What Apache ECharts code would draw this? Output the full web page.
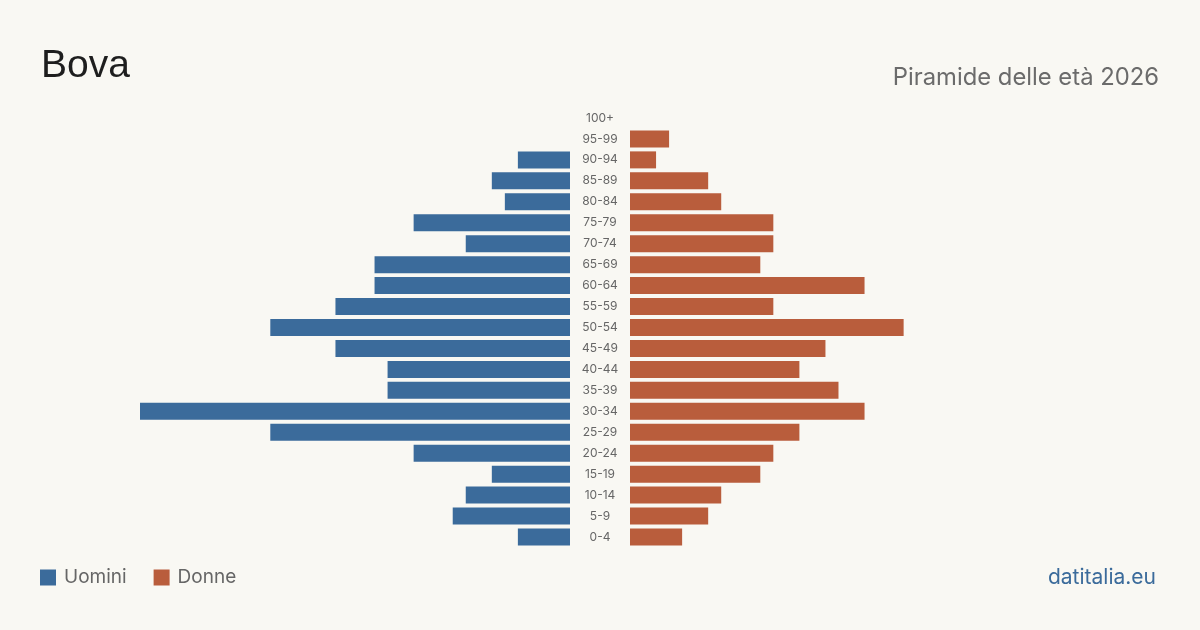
<!DOCTYPE html>
<html lang="it">
<head>
	<meta charset="UTF-8">
	<title>Bova</title>
	<style type="text/css">
	body,html{
		width: 100%;
		height: 100%;
		margin: 0;
		padding: 0;
		background-color: #f9f8f3;
	}
	#container{
		width: 1200px;
		height: 630px;
	}
	</style>
</head>
<body>
<div id="container"></div>
<script type="text/javascript" src="https://cdn.jsdelivr.net/npm/echarts@6/dist/echarts.min.js"></script>
<script type="text/javascript">
	// classi di età, dall'alto verso il basso
	var ageGroups = ['100+', '95-99', '90-94', '85-89', '80-84', '75-79', '70-74', '65-69', '60-64', '55-59',
		'50-54', '45-49', '40-44', '35-39', '30-34', '25-29', '20-24', '15-19', '10-14', '5-9', '0-4'];
	var uomini = [0, 0, 4, 6, 5, 12, 8, 15, 15, 18, 23, 18, 14, 14, 33, 23, 12, 6, 8, 9, 4];
	var donne = [0, 3, 2, 6, 7, 11, 11, 10, 18, 11, 21, 15, 13, 16, 18, 13, 11, 10, 7, 6, 4];

	var maxVal = Math.max(Math.max.apply(null, uomini), Math.max.apply(null, donne));
	var blue = '#3b6b9b';
	var orange = '#b95d3c';

	var option = {
		backgroundColor: '#f9f8f3',
		animation: false,
		title: [{
			text: 'Bova',
			left: 36,
			top: 42,
			textStyle: { fontFamily: 'Liberation Sans', fontSize: 39, fontWeight: 'normal', color: '#1e1e1e' }
		}, {
			text: 'Piramide delle età 2026',
			right: 36,
			top: 61,
			textStyle: { fontFamily: 'Inter', fontSize: 23.8, fontWeight: 'normal', color: '#6b6b6b' }
		}, {
			text: 'datitalia.eu',
			right: 39,
			top: 562,
			textStyle: { fontFamily: 'Inter', fontSize: 21, fontWeight: 'normal', color: '#3b6b9b' }
		}],
		legend: {
			left: 35,
			top: 563,
			icon: 'rect',
			itemWidth: 16,
			itemHeight: 16,
			itemGap: 27,
			textStyle: { fontFamily: 'Inter', fontSize: 19, color: '#666', padding: [0, 0, 0, 3] },
			data: ['Uomini', 'Donne']
		},
		grid: [
			{ left: 140, width: 430, top: 107.5, height: 440 },
			{ left: 630, width: 430, top: 107.5, height: 440 }
		],
		xAxis: [
			{ gridIndex: 0, type: 'value', min: 0, max: maxVal, inverse: true, show: false },
			{ gridIndex: 1, type: 'value', min: 0, max: maxVal, show: false }
		],
		yAxis: [{
			gridIndex: 0,
			type: 'category',
			position: 'right',
			inverse: true,
			data: ageGroups,
			axisLine: { show: false },
			axisTick: { show: false },
			axisLabel: {
				align: 'center',
				margin: 30,
				fontFamily: 'Inter',
				fontSize: 12,
				color: '#666'
			}
		}, {
			gridIndex: 1,
			type: 'category',
			inverse: true,
			data: ageGroups,
			show: false
		}],
		series: [{
			name: 'Uomini',
			type: 'bar',
			xAxisIndex: 0,
			yAxisIndex: 0,
			barWidth: 17,
			itemStyle: { color: blue },
			data: uomini
		}, {
			name: 'Donne',
			type: 'bar',
			xAxisIndex: 1,
			yAxisIndex: 1,
			barWidth: 17,
			itemStyle: { color: orange },
			data: donne
		}]
	};
	var container = echarts.init(document.getElementById('container'));
	container.setOption(option, true);
</script>
</body>
</html>
